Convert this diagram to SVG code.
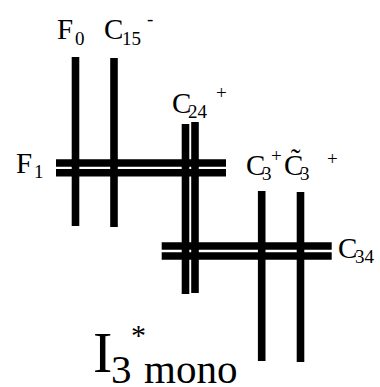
<svg xmlns="http://www.w3.org/2000/svg" width="380" height="387" viewBox="0 0 380 387" font-family="'Liberation Serif', 'DejaVu Serif', serif">
<style>
.ln{stroke:#000;stroke-width:7.6;stroke-linecap:butt;fill:none}
text{font-family:'Liberation Serif','DejaVu Serif',serif;fill:#000}
.m{font-size:29px}
.s{font-size:19px}
</style>
<rect width="380" height="387" fill="#fff"/>
<g id="connectors">
<line class="ln" x1="75.5" y1="57" x2="75.5" y2="226"/>
<line class="ln" x1="114" y1="58" x2="114" y2="227"/>
<line class="ln" x1="185.5" y1="124" x2="185.5" y2="294"/>
<line class="ln" x1="195" y1="122" x2="195" y2="293"/>
<line class="ln" x1="261.7" y1="191" x2="261.7" y2="361"/>
<line class="ln" x1="300.5" y1="192" x2="300.5" y2="362"/>
<line class="ln" x1="56" y1="163" x2="226" y2="163"/>
<line class="ln" x1="56" y1="172.8" x2="226" y2="172.8"/>
<line class="ln" x1="161.7" y1="246" x2="331.7" y2="246"/>
<line class="ln" x1="161.7" y1="256" x2="331.7" y2="256"/>
</g>
<g id="F0"><text class="m" x="57" y="39">F</text><text class="s" x="75" y="45">0</text></g>
<g id="C15"><text class="m" x="104" y="39">C</text><text class="s" x="122" y="45">15</text><text class="s" x="147" y="25">-</text></g>
<g id="C24"><text class="m" x="172" y="113">C</text><text class="s" x="188" y="118">24</text><text class="s" x="216" y="99">+</text></g>
<g id="F1"><text class="m" x="16" y="173">F</text><text class="s" x="34" y="178">1</text></g>
<g id="C3"><text class="m" x="246" y="175">C</text><text class="s" x="262" y="180">3</text><text class="s" x="271" y="162">+</text></g>
<g id="C3t"><text class="m" x="284" y="175">C̃</text><text class="s" x="300" y="180">3</text><text class="s" x="327" y="165">+</text></g>
<g id="C34"><text class="m" x="338" y="258">C</text><text class="s" x="355" y="263">34</text></g>
<g id="title"><text x="93" y="372" font-size="58">I</text><text x="111" y="383" font-size="41">3</text><text x="131" y="345" font-size="30">*</text><text x="144" y="383" font-size="41">mono</text></g>
</svg>
